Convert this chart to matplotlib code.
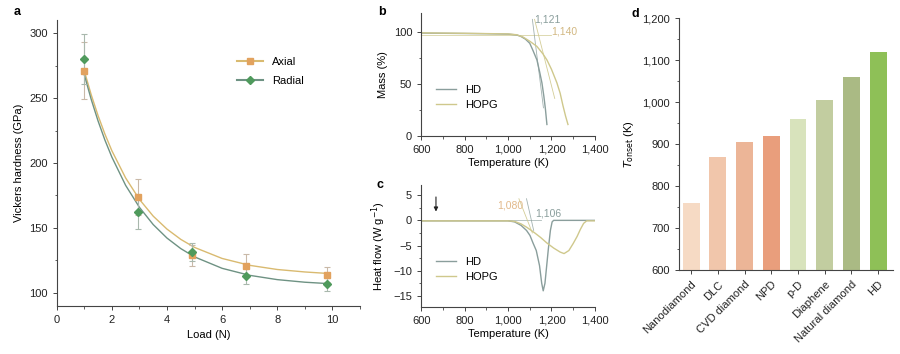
import numpy as np
import matplotlib.pyplot as plt
from matplotlib.ticker import MultipleLocator, FuncFormatter

plt.rcParams['font.family'] = ['Liberation Sans', 'DejaVu Sans']
plt.rcParams['font.size'] = 8
plt.rcParams['axes.edgecolor'] = '#444444'
plt.rcParams['xtick.color'] = '#444444'
plt.rcParams['ytick.color'] = '#444444'
plt.rcParams['xtick.labelcolor'] = '#222222'
plt.rcParams['ytick.labelcolor'] = '#222222'

# a: Vickers hardness
load_axial = [1, 2.95, 4.9, 6.85, 9.8]
hv_axial = [271, 174, 129, 121, 114]
err_axial = [22, 14, 8, 9, 6]
load_radial = [1, 2.95, 4.9, 6.85, 9.8]
hv_radial = [280, 162, 131.5, 113, 106.5]
err_radial = [19, 13, 7, 6, 5]
# fitted curves
fit_x = [1, 1.25, 1.5, 1.75, 2, 2.5, 3, 3.5, 4, 4.5, 5, 6, 7, 8, 9, 9.8]
fit_axial = [271, 252.7, 236.5, 222.2, 209.5, 188.5, 172.0, 159.1, 149.1, 141.2, 135.0,
             126.5, 121.2, 118.0, 116.1, 115.0]
fit_radial = [268, 249.1, 232.4, 217.6, 204.6, 182.8, 165.9, 152.6, 142.2, 134.1, 127.7,
              118.9, 113.5, 110.2, 108.2, 107.2]

# b: TGA mass
t_hd_m = [600, 700, 800, 900, 1000, 1040, 1060, 1080, 1100, 1115, 1133, 1145, 1156, 1165, 1172, 1179]
m_hd = [98.8, 98.6, 98.4, 98.2, 97.8, 97.0, 95.5, 93, 89, 82, 73, 62, 51, 38, 26, 11]
t_hopg_m = [600, 800, 1000, 1040, 1069, 1100, 1133, 1160, 1179, 1200, 1225, 1240, 1253, 1265, 1276]
m_hopg = [99, 98.6, 98, 97.2, 95, 91, 86, 79, 73, 64, 51, 41, 29, 19, 11]
onset_b = [1121, 1140]
tan_b_hd = ([1112, 1163], [112, 27])
tan_b_hopg = ([1122, 1215], [112, 36])
base_b = ([600, 1200], [97, 97])

# c: DSC heat flow
t_hd_h = [600, 1000, 1030, 1060, 1085, 1101, 1115, 1130, 1145, 1155, 1162, 1170, 1178, 1186,
          1195, 1203, 1210, 1400]
h_hd = [-0.1, -0.1, -0.3, -1.0, -2.0, -3.0, -4.5, -6.0, -9.0, -12.5, -14.0, -12.5, -9.0, -5.5,
        -2.0, -0.3, 0, 0]
t_hopg_h = [600, 1000, 1030, 1060, 1087, 1120, 1150, 1179, 1210, 1240, 1258, 1280, 1300, 1318,
            1333, 1348, 1362, 1400]
h_hopg = [-0.1, -0.1, -0.2, -0.7, -1.4, -2.4, -3.4, -4.5, -5.5, -6.3, -6.6, -6.0, -4.6, -3.2,
          -1.8, -0.6, -0.1, -0.1]
onset_c = [1080, 1106]
tan_c_hd = ([1085, 1118], [4.3, -2.0])
tan_c_hopg = ([1050, 1112], [4.3, -2.5])
base_c = ([1000, 1150], [0, 0])

# d: onset temperatures
materials = ['Nanodiamond', 'DLC', 'CVD diamond', 'NPD', 'p-D', 'Diaphene',
             'Natural diamond', 'HD']
t_onset = [760, 870, 905, 920, 960, 1005, 1060, 1120]
bar_colors = ['#F6DAC4', '#F1C6AB', '#ECB597', '#E99E7C', '#D8E3BC', '#C2CDA0',
              '#AABA84', '#8EC057']

c_axial = '#E2A25E'
c_axial_line = '#D9BA70'
c_radial = '#4F9A5C'
c_radial_line = '#6E9283'
c_hd = '#8A9E9C'
c_hopg = '#CFC88C'

comma = FuncFormatter(lambda v, p: '{:,.0f}'.format(v))

fig = plt.figure(figsize=(9, 3.54), dpi=100)

def style(ax):
    ax.spines['top'].set_visible(False)
    ax.spines['right'].set_visible(False)
    ax.tick_params(which='major', length=3, width=0.7, direction='out', labelsize=8)
    ax.tick_params(which='minor', length=1.8, width=0.6, direction='out')
    for s in ax.spines.values():
        s.set_linewidth(0.8)

# ---- a ----
ax = fig.add_axes([0.063, 0.136, 0.337, 0.807])
ax.plot(fit_x, fit_axial, color=c_axial_line, lw=1.0)
ax.plot(fit_x, fit_radial, color=c_radial_line, lw=1.0)
ax.errorbar(load_axial, hv_axial, yerr=err_axial, fmt='s', color=c_axial, ms=5,
            ecolor='#C9B9A8', elinewidth=0.8, capsize=2, capthick=0.8, zorder=3)
ax.errorbar(load_radial, hv_radial, yerr=err_radial, fmt='D', color=c_radial, ms=4.2,
            ecolor='#A9B8AD', elinewidth=0.8, capsize=2, capthick=0.8, zorder=3)
ax.plot([], [], '-s', color=c_axial_line, mfc=c_axial, mec=c_axial, ms=5, label='Axial')
ax.plot([], [], '-D', color=c_radial_line, mfc=c_radial, mec=c_radial, ms=4, label='Radial')
ax.legend(loc='upper left', bbox_to_anchor=(0.56, 0.905), frameon=False, handlelength=2.4,
          fontsize=8, labelspacing=0.8)
ax.set_xlim(0, 11)
ax.set_ylim(90, 310)
ax.xaxis.set_major_locator(MultipleLocator(2))
ax.xaxis.set_minor_locator(MultipleLocator(1))
ax.yaxis.set_major_locator(MultipleLocator(50))
ax.yaxis.set_minor_locator(MultipleLocator(25))
ax.set_xlabel('Load (N)')
ax.set_ylabel('Vickers hardness (GPa)')
style(ax)

# ---- b ----
ax = fig.add_axes([0.468, 0.616, 0.193, 0.347])
ax.plot(*base_b, color=c_hopg, lw=0.6, alpha=0.8)
ax.plot(*tan_b_hd, color=c_hd, lw=0.6, alpha=0.8)
ax.plot(*tan_b_hopg, color=c_hopg, lw=0.6, alpha=0.9)
ax.plot(t_hd_m, m_hd, color=c_hd, lw=1.0, label='HD')
ax.plot(t_hopg_m, m_hopg, color=c_hopg, lw=1.0, label='HOPG')
ax.text(1122, 112, '{:,}'.format(onset_b[0]), color=c_hd, fontsize=7.5, ha='left', va='center')
ax.text(1200, 100, '{:,}'.format(onset_b[1]), color='#D2B882', fontsize=7.5, ha='left', va='center')
ax.legend(loc='lower left', bbox_to_anchor=(0.03, 0.13), frameon=False, handlelength=1.8,
          fontsize=8, labelspacing=0.45)
ax.set_xlim(600, 1400)
ax.set_ylim(0, 118)
ax.xaxis.set_major_locator(MultipleLocator(200))
ax.xaxis.set_minor_locator(MultipleLocator(100))
ax.xaxis.set_major_formatter(comma)
ax.yaxis.set_major_locator(MultipleLocator(50))
ax.yaxis.set_minor_locator(MultipleLocator(25))
ax.set_xlabel('Temperature (K)', labelpad=2)
ax.set_ylabel('Mass (%)')
style(ax)

# ---- c ----
ax = fig.add_axes([0.468, 0.133, 0.193, 0.344])
ax.plot(*base_c, color=c_hd, lw=0.6, alpha=0.7)
ax.plot(*tan_c_hd, color=c_hd, lw=0.6, alpha=0.8)
ax.plot(*tan_c_hopg, color=c_hopg, lw=0.6, alpha=0.9)
ax.plot(t_hd_h, h_hd, color=c_hd, lw=1.0, label='HD')
ax.plot(t_hopg_h, h_hopg, color=c_hopg, lw=1.0, label='HOPG')
ax.text(1010, 3.0, '{:,}'.format(onset_c[0]), color='#E2B98A', fontsize=7.5, ha='center', va='center')
ax.text(1125, 1.4, '{:,}'.format(onset_c[1]), color=c_hd, fontsize=7.5, ha='left', va='center')
ax.annotate('', xy=(668, 1.2), xytext=(668, 5.2),
            arrowprops=dict(arrowstyle='-|>', color='#222222', lw=0.8, mutation_scale=6))
ax.legend(loc='lower left', bbox_to_anchor=(0.03, 0.12), frameon=False, handlelength=1.8,
          fontsize=8, labelspacing=0.45)
ax.set_xlim(600, 1400)
ax.set_ylim(-17.2, 7)
ax.xaxis.set_major_locator(MultipleLocator(200))
ax.xaxis.set_minor_locator(MultipleLocator(100))
ax.xaxis.set_major_formatter(comma)
ax.yaxis.set_major_locator(MultipleLocator(5))
ax.yaxis.set_minor_locator(MultipleLocator(2.5))
ax.yaxis.set_major_formatter(FuncFormatter(lambda v, p: '{:.0f}'.format(v).replace('-', '\u2212')))
ax.set_xlabel('Temperature (K)', labelpad=2)
ax.set_ylabel('Heat flow (W g$^{-1}$)')
style(ax)

# ---- d ----
ax = fig.add_axes([0.754, 0.237, 0.238, 0.712])
xpos = np.arange(len(materials))
ax.bar(xpos, [v - 600 for v in t_onset], bottom=600, width=0.63, color=bar_colors)
ax.set_xlim(-0.47, 7.55)
ax.set_ylim(600, 1200)
ax.set_xticks(xpos)
ax.set_xticklabels(materials, rotation=45, ha='right', rotation_mode='anchor')
ax.yaxis.set_major_locator(MultipleLocator(100))
ax.yaxis.set_minor_locator(MultipleLocator(50))
ax.yaxis.set_major_formatter(comma)
ax.set_ylabel('$T_{\\rm onset}$ (K)')
style(ax)

for lbl, x, y in [('a', 0.015, 0.965), ('b', 0.42, 0.965), ('c', 0.418, 0.478), ('d', 0.702, 0.96)]:
    fig.text(x, y, lbl, fontsize=9, fontweight='bold', va='center', ha='left')

fig.savefig('out.png', dpi=100)
